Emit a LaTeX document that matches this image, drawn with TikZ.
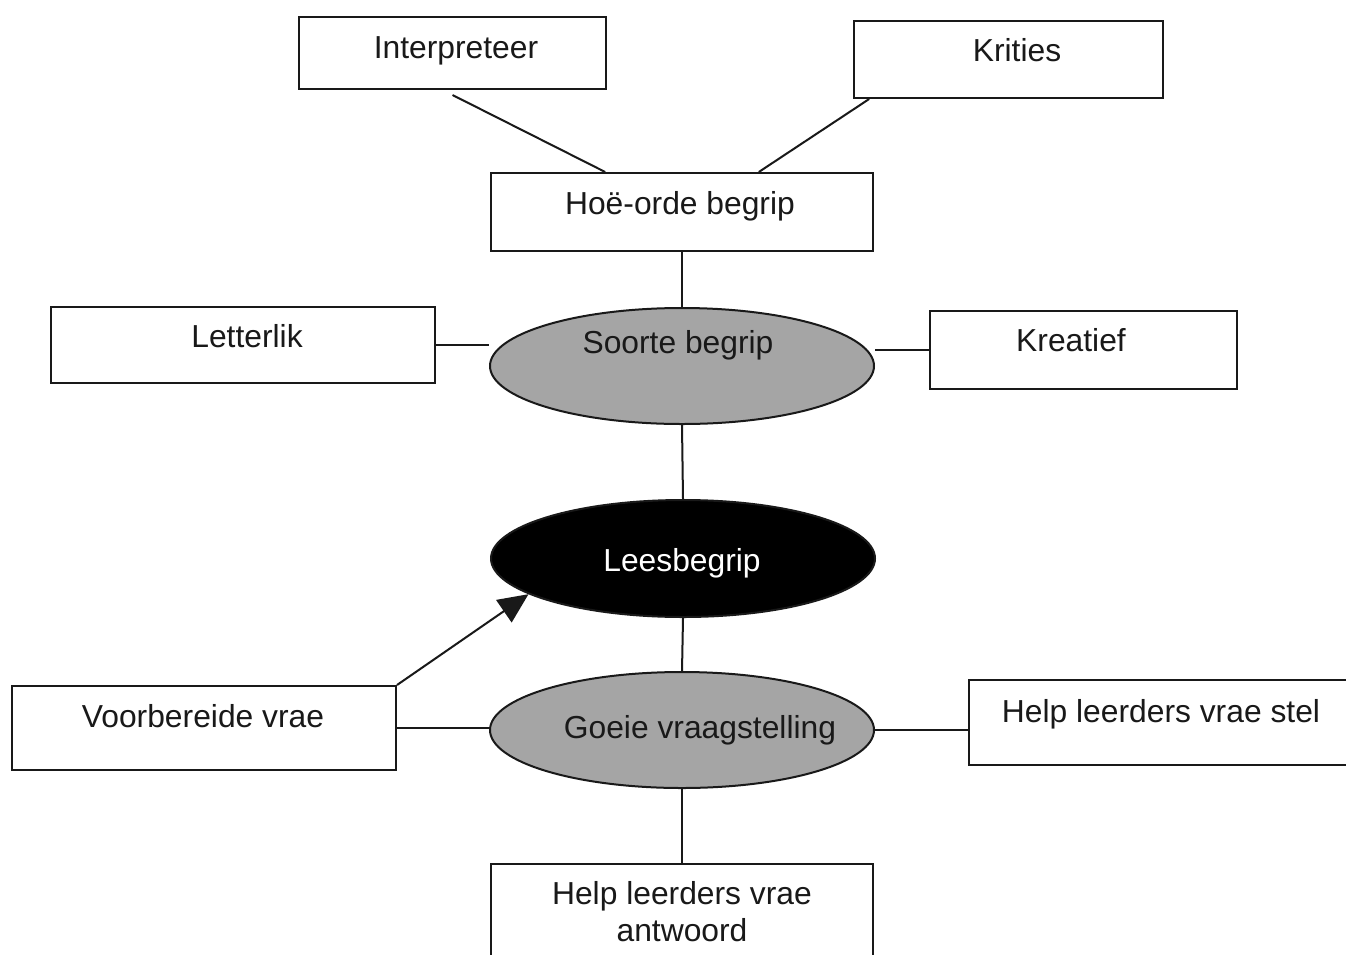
\documentclass[tikz,border=0pt]{standalone}
\usepackage{fontspec}
\setmainfont{Liberation Sans}
\usetikzlibrary{shapes.geometric,arrows.meta,calc}
\definecolor{ink}{RGB}{25,25,25}
\definecolor{shade}{RGB}{165,165,165}
\tikzset{
  box/.style={draw=ink, line width=2pt, rectangle, inner sep=0pt, fill=white},
  oval/.style={draw=ink, line width=2pt, ellipse, inner sep=0pt, minimum width=384pt, minimum height=116pt},
  txt/.style={text=ink, inner sep=0pt, anchor=base, font=\fontsize{31.8}{37}\selectfont},
  link/.style={draw=ink, line width=2pt},
  arrowlink/.style={draw=ink, line width=2pt, -{Triangle[length=30pt,width=27pt]}}
}
\begin{document}
\begin{tikzpicture}[x=1pt,y=-1pt]
\useasboundingbox (0,0) rectangle (1346,954);
\fill[white] (0,0) rectangle (1346,954);
\clip (0,0) rectangle (1346,954);

% boxes
\node[box, minimum width=307pt, minimum height=72pt] (interp) at (452.5,53) {};
\node[box, minimum width=309pt, minimum height=77pt] (krit) at (1008.5,59.5) {};
\node[box, minimum width=382pt, minimum height=78pt] (hoe) at (682,212) {};
\node[box, minimum width=384pt, minimum height=76pt] (letter) at (243,345) {};
\node[box, minimum width=307pt, minimum height=78pt] (kreat) at (1083.5,350) {};
\node[box, minimum width=384pt, minimum height=84pt] (voor) at (204,728) {};
\node[box, minimum width=400pt, minimum height=85pt] (stel) at (1169,722.5) {};
\node[box, minimum width=382pt, minimum height=110pt] (antw) at (682,919) {};

% ellipses
\node[oval, fill=shade] (soorte) at (682,366) {};
\node[oval, fill=black, minimum height=117pt] (lees) at (683,558.5) {};
\node[oval, fill=shade] (goeie) at (682,730) {};

% texts
\node[txt] (tinterp) at (456,58) {Interpreteer};
\node[txt] (tkrit) at (1017,61) {Krities};
\node[txt] (thoe) at (680,214) {Hoë-orde begrip};
\node[txt] (tletter) at (247,347) {Letterlik};
\node[txt] (tkreat) at (1071,351) {Kreatief};
\node[txt] (tsoorte) at (678,353) {Soorte begrip};
\node[txt, text=white] (tlees) at (682,571) {Leesbegrip};
\node[txt] (tgoeie) at (700,738) {Goeie vraagstelling};
\node[txt] (tvoor) at (203,727) {Voorbereide vrae};
\node[txt] (tstel) at (1161,722) {Help leerders vrae stel};
\node[txt, anchor=center, align=center] (tantw) at (682,911.5) {Help leerders vrae\\antwoord};

% connectors
\draw[link] ([yshift=-5pt]interp.south) -- ($(hoe.north west)!0.3!(hoe.north east)$);
\draw[link] ($(krit.south west)!0.052!(krit.south east)$) -- ($(hoe.north west)!0.7!(hoe.north east)$);
\draw[link] (hoe.south) -- (soorte.north);
\draw[link] (letter.east) -- (letter.east -| soorte.west);
\draw[link] (kreat.west) -- (kreat.west -| soorte.east);
\draw[link] (soorte.south) -- (lees.north);
\draw[link] (lees.south) -- (goeie.north);
\draw[link] (voor.east) -- (voor.east -| goeie.west);
\draw[link] (goeie.east) -- (goeie.east -| stel.west);
\draw[link] (goeie.south) -- (antw.north);
\draw[arrowlink] (voor.north east) -- (lees.193);
\end{tikzpicture}
\end{document}
